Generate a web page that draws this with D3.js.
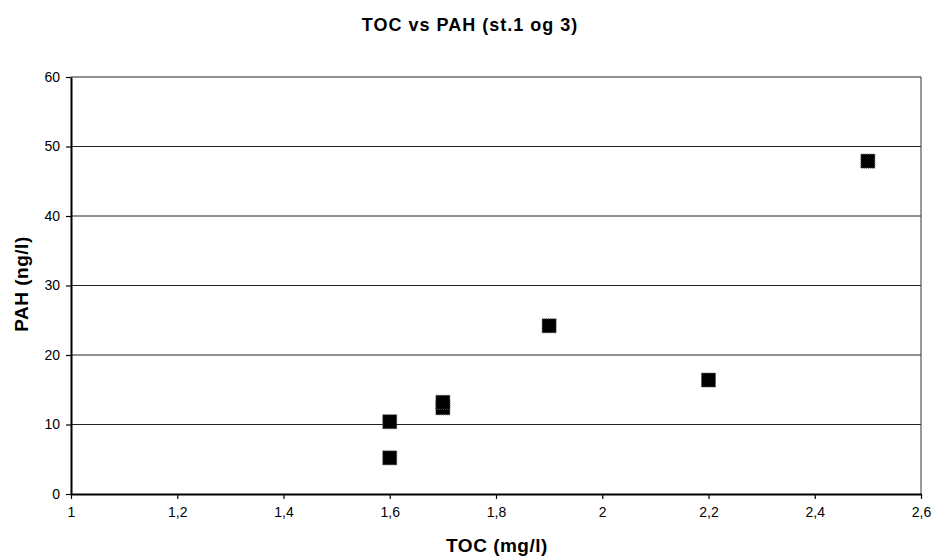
<!DOCTYPE html>
<html><head><meta charset="utf-8">
<script src="https://cdn.jsdelivr.net/npm/d3@7"></script>
<style>body{margin:0;background:#fff}svg{display:block;font-family:"Liberation Sans",Arial,sans-serif}</style>
</head><body><svg id="c" width="932" height="557"></svg>
<script>
const tocValues = [1.6, 1.6, 1.7, 1.7, 1.9, 2.2, 2.5];
const pahValues = [10.4, 5.2, 12.4, 13.2, 24.2, 16.4, 47.9];
const xTicks = [1, 1.2, 1.4, 1.6, 1.8, 2, 2.2, 2.4, 2.6];
const yTicks = [0, 10, 20, 30, 40, 50, 60];
const title = "TOC vs PAH (st.1 og 3)";
const xLabel = "TOC (mg/l)";
const yLabel = "PAH (ng/l)";

const svg = d3.select("#c");
const m = {l: 71, r: 921, t: 77, b: 494};
const x = d3.scaleLinear().domain([1, 2.6]).range([m.l, m.r]);
const y = d3.scaleLinear().domain([0, 60]).range([m.b, m.t]);
const fmt = d => String(d).replace(".", ",");

// gridlines
svg.append("g").selectAll("line").data(yTicks.filter(d => d > 0)).join("line")
  .attr("x1", m.l).attr("x2", m.r).attr("y1", d => y(d)).attr("y2", d => y(d))
  .attr("stroke", "#222").attr("stroke-width", 1);
// right border
svg.append("line").attr("x1", m.r).attr("x2", m.r).attr("y1", m.t).attr("y2", m.b)
  .attr("stroke", "#333").attr("stroke-width", 1);

const yAxis = svg.append("g").attr("transform", `translate(${m.l},0)`)
  .call(d3.axisLeft(y).tickValues(yTicks).tickSize(5).tickSizeOuter(0).tickFormat(fmt).tickPadding(6));
const xAxis = svg.append("g").attr("transform", `translate(0,${m.b})`)
  .call(d3.axisBottom(x).tickValues(xTicks).tickSize(5).tickSizeOuter(0).tickFormat(fmt).tickPadding(8));
[yAxis, xAxis].forEach(a => {
  a.select(".domain").attr("stroke", "#000").attr("stroke-width", 2);
  a.selectAll(".tick line").attr("stroke", "#000").attr("stroke-width", 1.2);
  a.selectAll("text").attr("font-size", 14).attr("fill", "#000").attr("font-family", "Liberation Sans, Arial, sans-serif");
});

// markers
const s = 14;
svg.append("g").selectAll("rect").data(tocValues.map((t, i) => [t, pahValues[i]])).join("rect")
  .attr("x", d => x(d[0]) - s / 2).attr("y", d => y(d[1]) - s / 2)
  .attr("width", s).attr("height", s).attr("fill", "#000")
  .attr("stroke", "#555").attr("stroke-width", 1).attr("stroke-dasharray", "1,1");

svg.append("text").attr("x", 470).attr("y", 31).attr("text-anchor", "middle")
  .attr("font-size", 18).attr("font-weight", "bold").attr("letter-spacing", 1).text(title);
svg.append("text").attr("x", 497).attr("y", 552).attr("text-anchor", "middle")
  .attr("font-size", 19).attr("font-weight", "bold").attr("letter-spacing", 0.5).text(xLabel);
svg.append("text").attr("transform", `translate(28,284) rotate(-90)`).attr("text-anchor", "middle")
  .attr("font-size", 19).attr("font-weight", "bold").attr("letter-spacing", 0.5).text(yLabel);
</script></body></html>
